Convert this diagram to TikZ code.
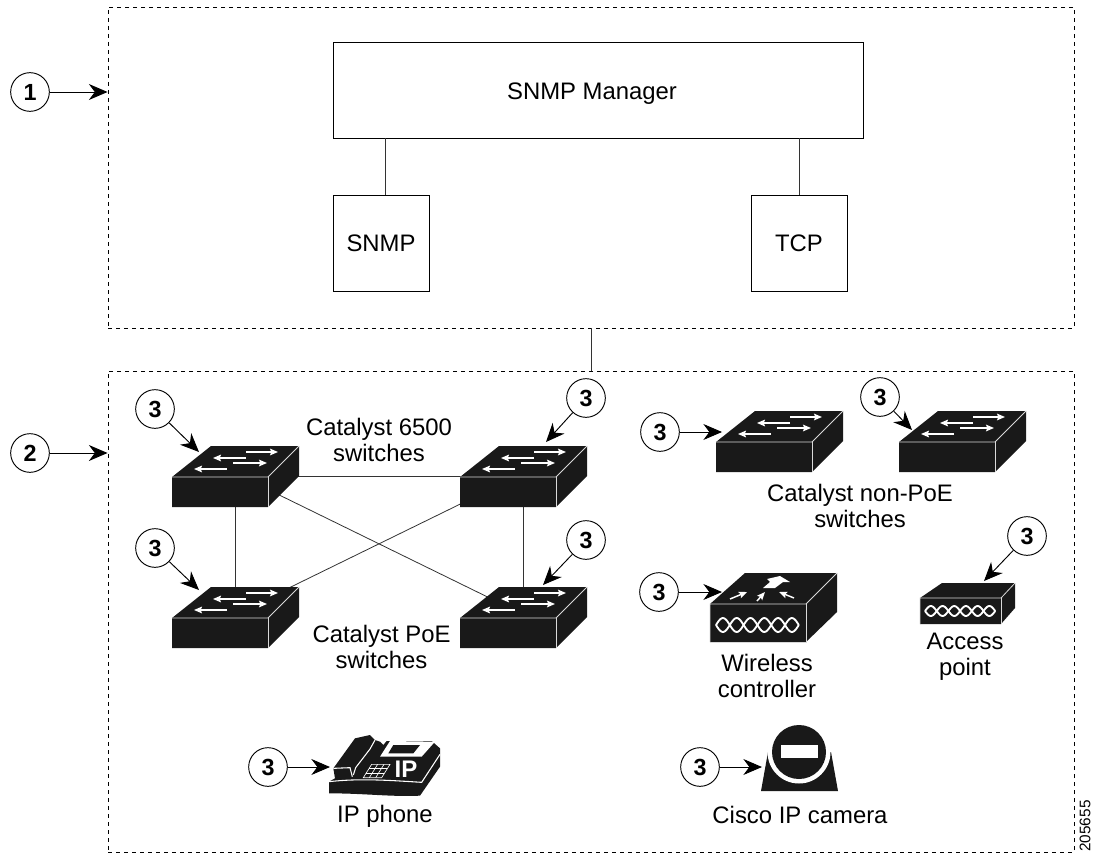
\documentclass[tikz,border=0pt]{standalone}
\usepackage{fontspec}
\setmainfont{Liberation Sans}
\usetikzlibrary{arrows.meta}

\tikzset{
  dashbox/.style={draw,dash pattern=on 3pt off 3pt,line width=0.7pt,inner sep=0pt},
  boxnode/.style={draw,line width=0.6pt,inner sep=0pt},
  callout/.style={draw,circle,line width=0.7pt,fill=white,minimum size=29pt,inner sep=0pt,font=\fontsize{17.5}{20}\selectfont\bfseries},
  callarr/.style={line width=0.7pt,-{Stealth[length=14pt,width=12pt,inset=4.5pt]}},
  lbl/.style={align=center,inner sep=0pt,font=\fontsize{17.9}{19.5}\selectfont},
  link/.style={line width=0.6pt,black!80},
  icon/.style={fill=black!90,draw=none},
  edge/.style={draw=black!15,line width=0.6pt},
  whitearr/.style={draw=white,line width=1.1pt,-{Stealth[length=6pt,width=5pt,inset=1pt]}}
}

% switch box, #1 is the middle of the icon
\newcommand{\switchicon}[1]{
\begin{scope}[shift={(#1)}]
\fill[icon] (-63,31) -- (-63,1) -- (-24,-30) -- (64,-30) -- (64,0) -- (33,31) -- cycle;
\draw[edge] (-63,1) -- (33,1) -- (64,-30);
\draw[edge] (33,1) -- (33,31);
\draw[whitearr] (11,-24) -- (43,-24);
\draw[whitearr] (11,-18) -- (-22,-18);
\draw[whitearr] (-2,-13) -- (32,-13);
\draw[whitearr] (-8,-7) -- (-41,-7);
\end{scope}
}

% radio waves: start x, middle y, lobe width, lobe height
\newcommand{\wavechain}[4]{
\draw[white,line width=1.4pt] plot[domain=0:6,samples=61,smooth] ({#1+\x*#3},{#2+#4*sin(\x*180)});
\draw[white,line width=1.4pt] plot[domain=0:6,samples=61,smooth] ({#1+\x*#3},{#2-#4*sin(\x*180)});
}

\begin{document}
\begin{tikzpicture}[x=0.75pt,y=-0.75pt]
\useasboundingbox (0,0) rectangle (1095,856);

% upper area
\node[dashbox,minimum width=724.5pt,minimum height=240.75pt] (mgrarea) at (591,167.5) {};
\node[boxnode,minimum width=398pt,minimum height=72pt] (manager) at (598.5,90) {};
\node[lbl] (managertext) at (592,94) {SNMP Manager};
\node[boxnode,lbl,minimum size=72pt] (snmp) at (381,243) {SNMP};
\node[boxnode,lbl,minimum size=72pt] (tcp) at (799,243) {TCP};
\draw[link] ([xshift=3pt]snmp.north) -- ([xshift=3pt]snmp.north |- manager.south);
\draw[link] (tcp.north) -- (tcp.north |- manager.south);

% lower area
\node[dashbox,minimum width=724.5pt,minimum height=360.75pt] (devarea) at (591,611.5) {};
\draw[link] (mgrarea.south) -- (devarea.north);

\node[callout] (markone) at (30,92) {1};
\draw[callarr] (markone) -- (markone -| mgrarea.west);
\node[callout] (marktwo) at (30,453) {2};
\draw[callarr] (marktwo) -- (marktwo -| devarea.west);

% switches
\coordinate (swa) at (235,476);
\coordinate (swb) at (523,476);
\coordinate (swc) at (235,617);
\coordinate (swd) at (523,617);
\coordinate (swe) at (779,441);
\coordinate (swf) at (962,441);
\draw[link] (swa) -- (swb);
\draw[link] (swa) -- (swc);
\draw[link] (swb) -- (swd);
\draw[link] ([yshift=2pt]swa) -- ([yshift=2pt]swd);
\draw[link] ([yshift=2pt]swc) -- ([yshift=2pt]swb);
\switchicon{swa}
\switchicon{swb}
\switchicon{swc}
\switchicon{swd}
\switchicon{swe}
\switchicon{swf}

\node[callout] (marka) at (155,409) {3};
\coordinate (tipa) at (199,452);
\draw[callarr] (marka) -- (tipa);
\node[callout] (markb) at (586,398) {3};
\coordinate (tipb) at (546,442);
\draw[callarr] (markb) -- (tipb);
\node[callout] (markc) at (155,548) {3};
\coordinate (tipc) at (199,590);
\draw[callarr] (markc) -- (tipc);
\node[callout] (markd) at (586,540) {3};
\coordinate (tipd) at (543,585);
\draw[callarr] (markd) -- (tipd);
\node[callout] (marke) at (660,432) {3};
\coordinate (tipe) at (722,432);
\draw[callarr] (marke) -- (tipe);
\node[callout] (markf) at (880,397) {3};
\coordinate (tipf) at (912,430);
\draw[callarr] (markf) -- (tipf);

\node[lbl] (lbla) at (379,439.5) {Catalyst 6500\\switches};
\node[lbl] (lblb) at (860,505.5) {Catalyst non-PoE\\switches};
\node[lbl] (lblc) at (381.5,646.5) {Catalyst PoE\\switches};

% wireless controller
\fill[icon] (710,642) -- (710,604) -- (745,573) -- (837,573) -- (837,612) -- (806,642) -- cycle;
\draw[edge] (710,642) -- (710,604) -- (806,604) -- (837,573);
\draw[edge] (806,604) -- (806,642) -- (710,642);
\wavechain{716}{625}{13.8}{7}
\fill[white] (763,588) -- (770,582) -- (767,579) -- (780,576) -- (790,582) -- (783,582) -- (775,588) -- cycle;
\draw[whitearr] (730,599) -- (747,592);
\draw[whitearr] (757,601) -- (765,592);
\draw[whitearr] (794,598) -- (779,592);
\node[callout] (markg) at (659,592) {3};
\coordinate (tipg) at (722,592);
\draw[callarr] (markg) -- (tipg);
\node[lbl] (lblg) at (767,676) {Wireless\\controller};

% access point
\fill[icon] (920,624) -- (920,598) -- (942,583) -- (1015,583) -- (1015,608) -- (1001,624) -- cycle;
\draw[edge] (920,624) -- (920,598) -- (1001,598) -- (1015,583);
\draw[edge] (1001,598) -- (1001,624);
\wavechain{925}{611}{11.7}{5}
\node[callout] (markh) at (1027,536) {3};
\coordinate (tiph) at (984,581);
\draw[callarr] (markh) -- (tiph);
\node[lbl] (lblh) at (965,657) {Access\\point};

% IP phone
\begin{scope}[shift={(325,725)},scale=1/3]
\fill[icon] (12,205) -- (12,170) -- (30,160) -- (25,130) -- (90,40) -- (135,30) -- (150,45) -- (165,50) -- (175,60) -- (185,48) -- (320,48) -- (345,70) -- (345,125) -- (285,212) .. controls (200,216) and (120,205) .. (12,205) -- cycle;
\draw[white,line width=0.8pt] (12,170) .. controls (100,160) and (180,165) .. (290,172) -- (345,88);
\draw[white,line width=0.8pt] (25,130) -- (75,128) -- (82,155);
\draw[white,line width=0.8pt] (85,150) -- (92,128) -- (135,72) -- (150,45);
\fill[white] (195,48) -- (330,50) -- (290,95) -- (165,95) -- cycle;
\fill[icon] (205,60) -- (285,60) -- (265,85) -- (190,85) -- cycle;
\draw[white,line width=0.5pt] (140,118) -- (195,118) -- (170,158) -- (115,158) -- cycle;
\draw[white,line width=0.5pt] (132,131) -- (187,131);
\draw[white,line width=0.5pt] (124,145) -- (178,145);
\draw[white,line width=0.5pt] (158,118) -- (133,158);
\draw[white,line width=0.5pt] (177,118) -- (152,158);
\node[text=white,inner sep=0pt,font=\fontsize{18}{20}\selectfont\bfseries] (iptext) at (243,133) {IP};
\end{scope}
\node[callout] (marki) at (268,767) {3};
\coordinate (tipi) at (330,767);
\draw[callarr] (marki) -- (tipi);
\node[lbl] (lbli) at (385,816) {IP phone};

% IP camera
\fill[icon] (761,791) -- (838,791) -- (831,752) -- (768,752) -- cycle;
\fill[white] (799,752) circle (31.5);
\fill[icon] (799,752) circle (27);
\fill[white] (781,745) rectangle (818,758);
\node[callout] (markj) at (700,767) {3};
\coordinate (tipj) at (762,767);
\draw[callarr] (markj) -- (tipj);
\node[lbl] (lblj) at (800,815) {Cisco IP camera};

\node[rotate=90,inner sep=0pt,font=\fontsize{11.5}{13}\selectfont] (figno) at (1085,826) {205655};
\end{tikzpicture}
\end{document}
